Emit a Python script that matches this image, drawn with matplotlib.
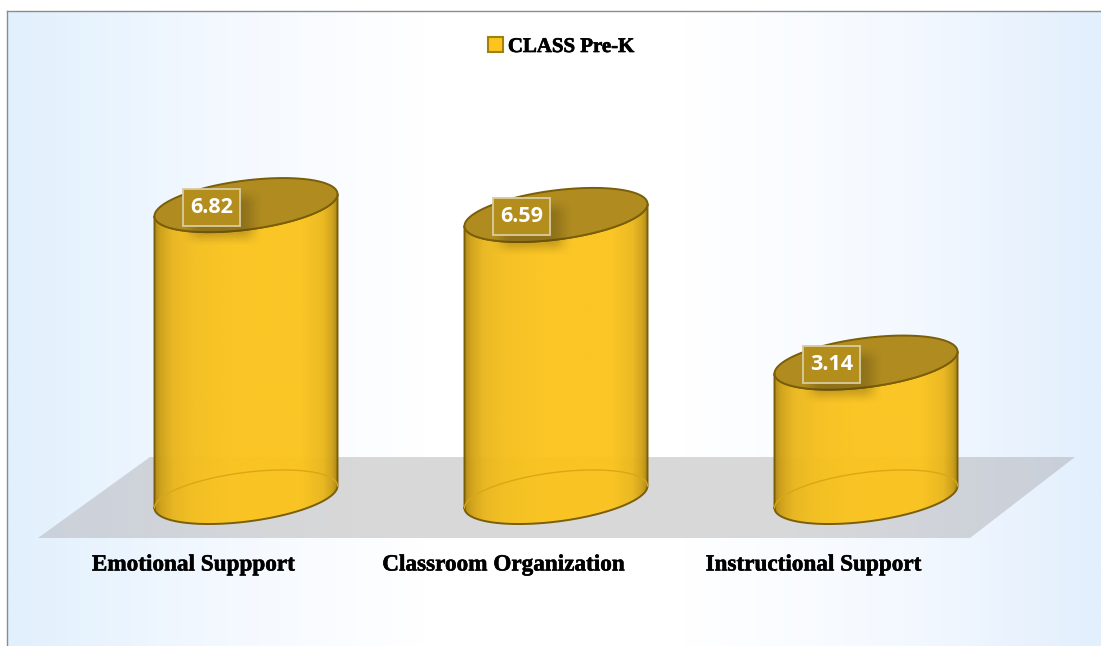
import numpy as np
import matplotlib
matplotlib.use("Agg")
import matplotlib.pyplot as plt
from matplotlib.patches import Polygon, Rectangle, Patch
from matplotlib.colors import LinearSegmentedColormap
import matplotlib.patheffects as pe

categories = ["Emotional Suppport", "Classroom Organization", "Instructional Support"]
values = [6.82, 6.59, 3.14]
value_labels = ["6.82", "6.59", "3.14"]
series_name = "CLASS Pre-K"

W, H = 1101, 646
fig = plt.figure(figsize=(W / 100, H / 100), dpi=100, facecolor="white")
ax = fig.add_axes([0, 0, 1, 1])
ax.axis("off")

# scales: category spacing 310 px, 42.8 px per unit, origin at (246, 497)
SX, SY, X0, Y0 = 310.0, 42.8, 246.0, 497.0
xlim = (-X0 / SX, (W - X0) / SX)
ylim = ((Y0 - H) / SY, Y0 / SY)
px = lambda p: (p - X0) / SX
py = lambda p: (Y0 - p) / SY


def grad(colors, extent, z, clip=None, alpha=1.0):
    cmap = LinearSegmentedColormap.from_list("g", colors)
    g = np.linspace(0, 1, 512)[None, :]
    im = ax.imshow(g, cmap=cmap, extent=extent, aspect="auto", zorder=z,
                   alpha=alpha, interpolation="bilinear")
    if clip is not None:
        im.set_clip_path(clip)
    return im


# background
grad([(0, "#E1F0FD"), (0.2, "#F4F9FF"), (0.38, "#FFFFFF"), (0.62, "#FFFFFF"),
      (0.82, "#F4F9FF"), (1, "#E2EFFD")],
     (px(7), px(W), py(H), py(11)), 0)
ax.plot([px(6.5), px(6.5)], [py(H), py(10.5)], color="#8C8C8C", lw=1.0, zorder=1)
ax.plot([px(6.5), px(W)], [py(10.5), py(10.5)], color="#8C8C8C", lw=1.0, zorder=1)

# floor
floor = Polygon([(px(38), py(538)), (px(970), py(538)), (px(1075), py(457)), (px(150), py(457))],
                closed=True, fc="none", ec="none", zorder=2)
ax.add_patch(floor)
grad([(0, "#CBD1DB"), (0.3, "#D8D8D8"), (0.7, "#D9D9D9"), (1, "#C9CFDA")],
     (px(38), px(1075), py(538), py(457)), 2, clip=floor)

# cylinders
A, B, K = 91.5 / SX, 24.7 / SY, 11.0 / SY
t = np.linspace(0, 2 * np.pi, 241)
low = np.linspace(np.pi, 2 * np.pi, 120)


def ell(cx, cy, tt):
    return cx + A * np.cos(tt), cy + B * np.sin(tt) + K * np.cos(tt)


body_cols = [(0, "#B08A12"), (0.03, "#CFA014"), (0.1, "#EAB61C"), (0.22, "#F5BF1C"), (0.42, "#FBC41C"),
             (0.8, "#FBC41C"), (0.92, "#EBB71A"), (0.97, "#CFA014"), (1, "#A98310")]
EDGE = "#7A5E08"

for i, v in enumerate(values):
    bx, by = ell(i, 0.0, low)
    tx, ty = ell(i, v, low)
    xs = np.r_[bx, tx[::-1]]
    ys = np.r_[by, ty[::-1]]
    body = Polygon(np.c_[xs, ys], closed=True, fc="none", ec="none", zorder=3)
    ax.add_patch(body)
    grad(body_cols, (i - A, i + A, 0 - 30 / SY, v + 30 / SY), 3, clip=body, alpha=0.96)
    # outline
    ax.plot(xs.tolist() + [xs[0]], ys.tolist() + [ys[0]], color=EDGE, lw=1.4, zorder=4)
    # faint back edge of base
    ex, ey = ell(i, 0.0, np.linspace(0, np.pi, 120))
    ax.plot(ex, ey, color="#D9A814", lw=1.0, zorder=4)
    # top face
    ex, ey = ell(i, v, t)
    ax.add_patch(Polygon(np.c_[ex, ey], closed=True, fc="#AF8B20", ec=EDGE, lw=1.4, zorder=5))

    # label shadow
    cx, cy = i - 34.5 / SX, v - 2.0 / SY
    n = 90
    gx = np.linspace(-55, 55, n)
    gy = np.linspace(-42, 42, n)
    sx = np.clip((42 - np.abs(gx)) / 22, 0, 1)
    sy = np.clip((30 - np.abs(gy)) / 18, 0, 1)
    a = (sx * sx * (3 - 2 * sx))[None, :] * (sy * sy * (3 - 2 * sy))[:, None] * 0.3
    rgba = np.zeros((n, n, 4))
    rgba[..., 0:3] = (0.28, 0.22, 0.05)
    rgba[..., 3] = a
    scx, scy = cx + 10 / SX, cy - 10 / SY
    ax.imshow(rgba, extent=(scx - 55 / SX, scx + 55 / SX, scy - 42 / SY, scy + 42 / SY),
              aspect="auto", zorder=6, origin="upper", interpolation="bilinear")
    # label box and text
    ax.add_patch(Rectangle((cx - 28.5 / SX, cy - 18.5 / SY), 57 / SX, 37 / SY, fc="#B38E1C",
                           ec="none", zorder=7))
    ax.add_patch(Rectangle((cx - 28.5 / SX, cy - 18.5 / SY), 57 / SX, 37 / SY, fc="none",
                           ec="#D8CDA0", lw=1.3, zorder=8))
    ax.text(cx, cy, value_labels[i], color="white", fontsize=15.5, fontweight="bold",
            family="Open Sans", ha="center", va="center", zorder=9)

    # category label
    ax.annotate(categories[i], xy=(i, py(565)), xytext=(-52.5 * 0.72, 0), textcoords="offset points",
                ha="center", va="center", fontsize=16.7, fontweight="bold", color="black",
                family="Liberation Serif", zorder=9,
                path_effects=[pe.withStroke(linewidth=0.4, foreground="black")])

# legend
leg = ax.legend(handles=[Patch(fc="#FCC41C", ec="#A0800F", lw=1.5, label=series_name)],
                loc="center", bbox_to_anchor=(561 / W, 1 - 47 / H), frameon=False,
                prop={"family": "Liberation Serif", "weight": "bold", "size": 15},
                handlelength=0.72, handleheight=0.75, handletextpad=0.25)
for txt in leg.get_texts():
    txt.set_path_effects([pe.withStroke(linewidth=0.5, foreground="black")])

ax.set_xlim(*xlim)
ax.set_ylim(*ylim)
fig.savefig("out.png", dpi=100)
